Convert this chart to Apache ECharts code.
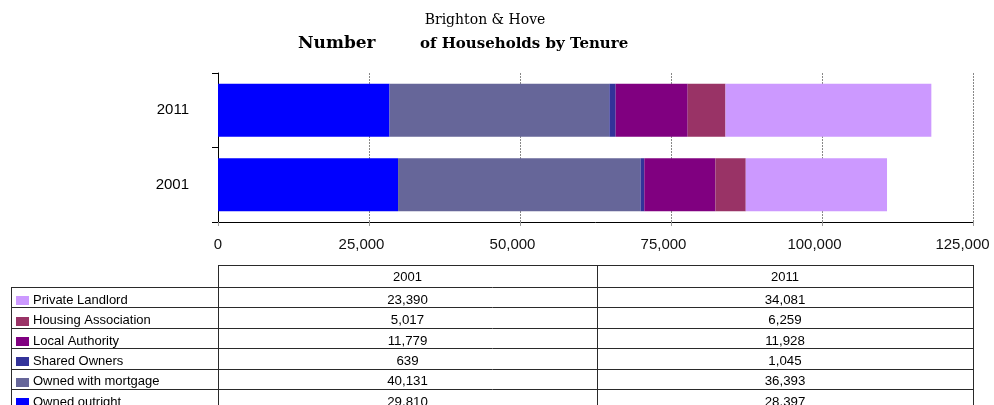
<!DOCTYPE html>
<html>
<head>
<meta charset="utf-8">
<script src="https://cdn.jsdelivr.net/npm/echarts@6/dist/echarts.min.js"></script>
<style>
html,body{margin:0;padding:0;background:#fff;}
#chart{width:994px;height:405px;}
</style>
</head>
<body>
<div id="chart"></div>
<script>
// ---- data ----
const categories = ['2001', '2011'];
const tenureNames = ['Owned outright', 'Owned with mortgage', 'Shared Owners', 'Local Authority', 'Housing Association', 'Private Landlord'];
const ownedOutright = [29810, 28397];
const ownedWithMortgage = [40131, 36393];
const sharedOwners = [639, 1045];
const localAuthority = [11779, 11928];
const housingAssociation = [5017, 6259];
const privateLandlord = [23390, 34081];
const xTickValues = [0, 25000, 50000, 75000, 100000, 125000];

const seriesValues = [ownedOutright, ownedWithMortgage, sharedOwners, localAuthority, housingAssociation, privateLandlord];
const colors = ['#0000FF', '#666699', '#333399', '#800080', '#993366', '#CC99FF'];

function fmt(v) { return v.toLocaleString('en-US'); }

// ---- layout ----
const G = { left: 218, top: 73, width: 755, height: 149 };
const tbl = { headTop: 265, rowTop: 287, rowH: 20.4, leftX: 11, col1: 218, col2: 597, right: 973, bottom: 410 };
const lineColor = '#2a2a2a';
const tableFont = '13px Arial, "Liberation Sans", sans-serif';

const graphics = [];
function hline(y, x1, x2) {
  graphics.push({ type: 'line', silent: true, shape: { x1: x1, y1: Math.round(y) + 0.5, x2: x2, y2: Math.round(y) + 0.5 }, style: { stroke: lineColor, lineWidth: 1 } });
}
function vline(x, y1, y2) {
  graphics.push({ type: 'line', silent: true, shape: { x1: x + 0.5, y1: y1, x2: x + 0.5, y2: y2 }, style: { stroke: lineColor, lineWidth: 1 } });
}
hline(tbl.headTop, tbl.col1, tbl.right + 1);
vline(tbl.col1, tbl.headTop, tbl.bottom);
vline(tbl.col2, tbl.headTop, tbl.bottom);
vline(tbl.right, tbl.headTop, tbl.bottom);
vline(tbl.leftX, tbl.rowTop, tbl.bottom);
const colCenters = [(tbl.col1 + tbl.col2) / 2, (tbl.col2 + tbl.right) / 2];
categories.forEach(function (c, j) {
  graphics.push({ type: 'text', silent: true, x: colCenters[j], y: (tbl.headTop + tbl.rowTop) / 2 + 1, style: { text: c, font: tableFont, fill: '#000', align: 'center', verticalAlign: 'middle' } });
});
// rows: top to bottom in reverse stack order
const rowOrder = tenureNames.map(function (n, i) { return i; }).reverse();
rowOrder.forEach(function (si, r) {
  const top = tbl.rowTop + r * tbl.rowH;
  hline(top, tbl.leftX, tbl.right + 1);
  const cy = top + tbl.rowH / 2 + 3;
  graphics.push({ type: 'rect', silent: true, shape: { x: 16, y: Math.round(cy) - 4, width: 13, height: 9 }, style: { fill: colors[si] } });
  graphics.push({ type: 'text', silent: true, x: 33, y: cy, style: { text: tenureNames[si], font: tableFont, fill: '#000', align: 'left', verticalAlign: 'middle' } });
  categories.forEach(function (c, j) {
    graphics.push({ type: 'text', silent: true, x: colCenters[j], y: cy, style: { text: fmt(seriesValues[si][j]), font: '13.3px Arial, "Liberation Sans", sans-serif', fill: '#000', align: 'center', verticalAlign: 'middle' } });
  });
});

const labelBase = { fontFamily: 'Arial, "Liberation Sans", sans-serif', fontSize: 15, color: '#111' };
const chart = echarts.init(document.getElementById('chart'), null, { renderer: 'canvas' });
chart.setOption({
  animation: false,
  backgroundColor: '#fff',
  title: [
    { text: 'Brighton & Hove', left: 485, top: 13, padding: 0, textAlign: 'center', textStyle: { fontFamily: '"DejaVu Serif", serif', fontWeight: 'normal', fontSize: 14, color: '#000' } },
    { text: 'Number', left: 298, top: 35, padding: 0, textStyle: { fontFamily: '"DejaVu Serif", serif', fontWeight: 'bold', fontSize: 17, color: '#000' } },
    { text: 'of Households by Tenure', left: 420, top: 37, padding: 0, textStyle: { fontFamily: '"DejaVu Serif", serif', fontWeight: 'bold', fontSize: 15, color: '#000' } }
  ],
  grid: { left: G.left, top: G.top, width: G.width, height: G.height, containLabel: false, outerBoundsMode: 'none' },
  xAxis: {
    type: 'value', min: 0, max: 125000, interval: 25000,
    axisLine: { show: true, lineStyle: { color: '#000', width: 1 } },
    axisTick: { show: true, length: 4, inside: false, lineStyle: { color: '#999', width: 1 } },
    axisLabel: {
      margin: 15, fontFamily: labelBase.fontFamily, fontSize: 15, color: '#111',
      formatter: function (v) {
        if (xTickValues.indexOf(v) < 0) return '';
        if (v === 0) return '{z|' + fmt(v) + '}';
        if (v === xTickValues[xTickValues.length - 1]) return '{e|' + fmt(v) + '}';
        return '{m|' + fmt(v) + '}';
      },
      rich: {
        z: Object.assign({}, labelBase),
        m: Object.assign({ padding: [0, 15, 0, 0] }, labelBase),
        e: Object.assign({ padding: [0, 21, 0, 0] }, labelBase)
      }
    },
    splitLine: { show: true, lineStyle: { color: '#888', type: [2, 1], width: 1 } }
  },
  yAxis: {
    type: 'category', data: categories,
    axisLine: { show: true, lineStyle: { color: '#000', width: 1 } },
    axisTick: { show: true, length: 6, inside: false, lineStyle: { color: '#000' } },
    axisLabel: { margin: 29, fontFamily: labelBase.fontFamily, fontSize: 15, color: '#000' },
    splitLine: { show: false }
  },
  graphic: graphics,
  series: tenureNames.map(function (name, i) {
    return {
      name: name, type: 'bar', stack: 'total', barWidth: 53,
      itemStyle: { color: colors[i] },
      data: seriesValues[i]
    };
  })
});
</script>
</body>
</html>
